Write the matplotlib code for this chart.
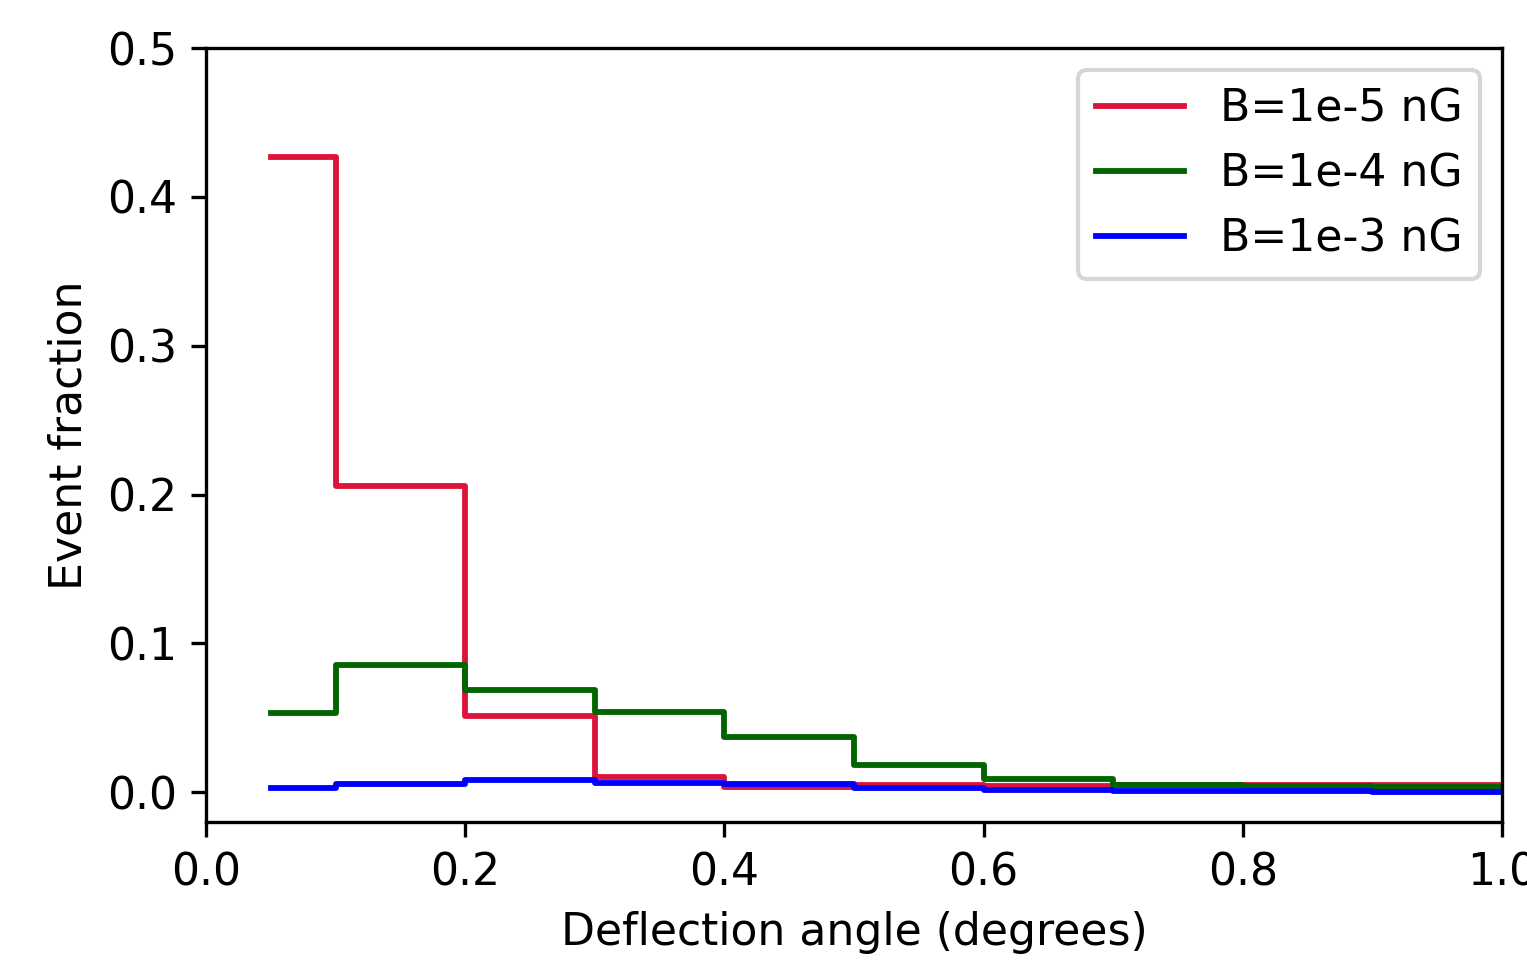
import matplotlib
matplotlib.use('Agg')
import matplotlib.pyplot as plt

# bin edges of deflection angle (degrees)
edges = [0.05, 0.1, 0.2, 0.3, 0.4, 0.5, 0.6, 0.7, 0.8, 0.9, 1.0]

# event fraction per bin
frac_1e5 = [0.4265, 0.2056, 0.0511, 0.0105, 0.0032, 0.0047, 0.0044, 0.0046, 0.0049, 0.0049]
frac_1e4 = [0.0533, 0.0853, 0.0690, 0.0542, 0.0372, 0.0180, 0.0092, 0.0051, 0.0043, 0.0036]
frac_1e3 = [0.0031, 0.0054, 0.0081, 0.0063, 0.0057, 0.0026, 0.0018, 0.0011, 0.0007, 0.0003]

labels = ['B=1e-5 nG', 'B=1e-4 nG', 'B=1e-3 nG']
colors = ['crimson', 'darkgreen', 'blue']

fs = 10.6
fig = plt.figure(figsize=(1527/300, 961/300), dpi=300)
ax = fig.add_axes([206/1527, 1 - 822/961, (1502-206)/1527, (822-48)/961])

for y, lab, c in zip([frac_1e5, frac_1e4, frac_1e3], labels, colors):
    ax.step(edges, y + [y[-1]], where='post', color=c, lw=1.4, label=lab)

ax.set_xlim(0, 1.0)
ax.set_ylim(-0.02, 0.5)
ax.tick_params(labelsize=fs)
ax.set_xlabel('Deflection angle (degrees)', fontsize=fs)
ax.set_ylabel('Event fraction', fontsize=fs)
ax.legend(loc='upper right', fontsize=fs)

fig.savefig('out.png', dpi=300)
